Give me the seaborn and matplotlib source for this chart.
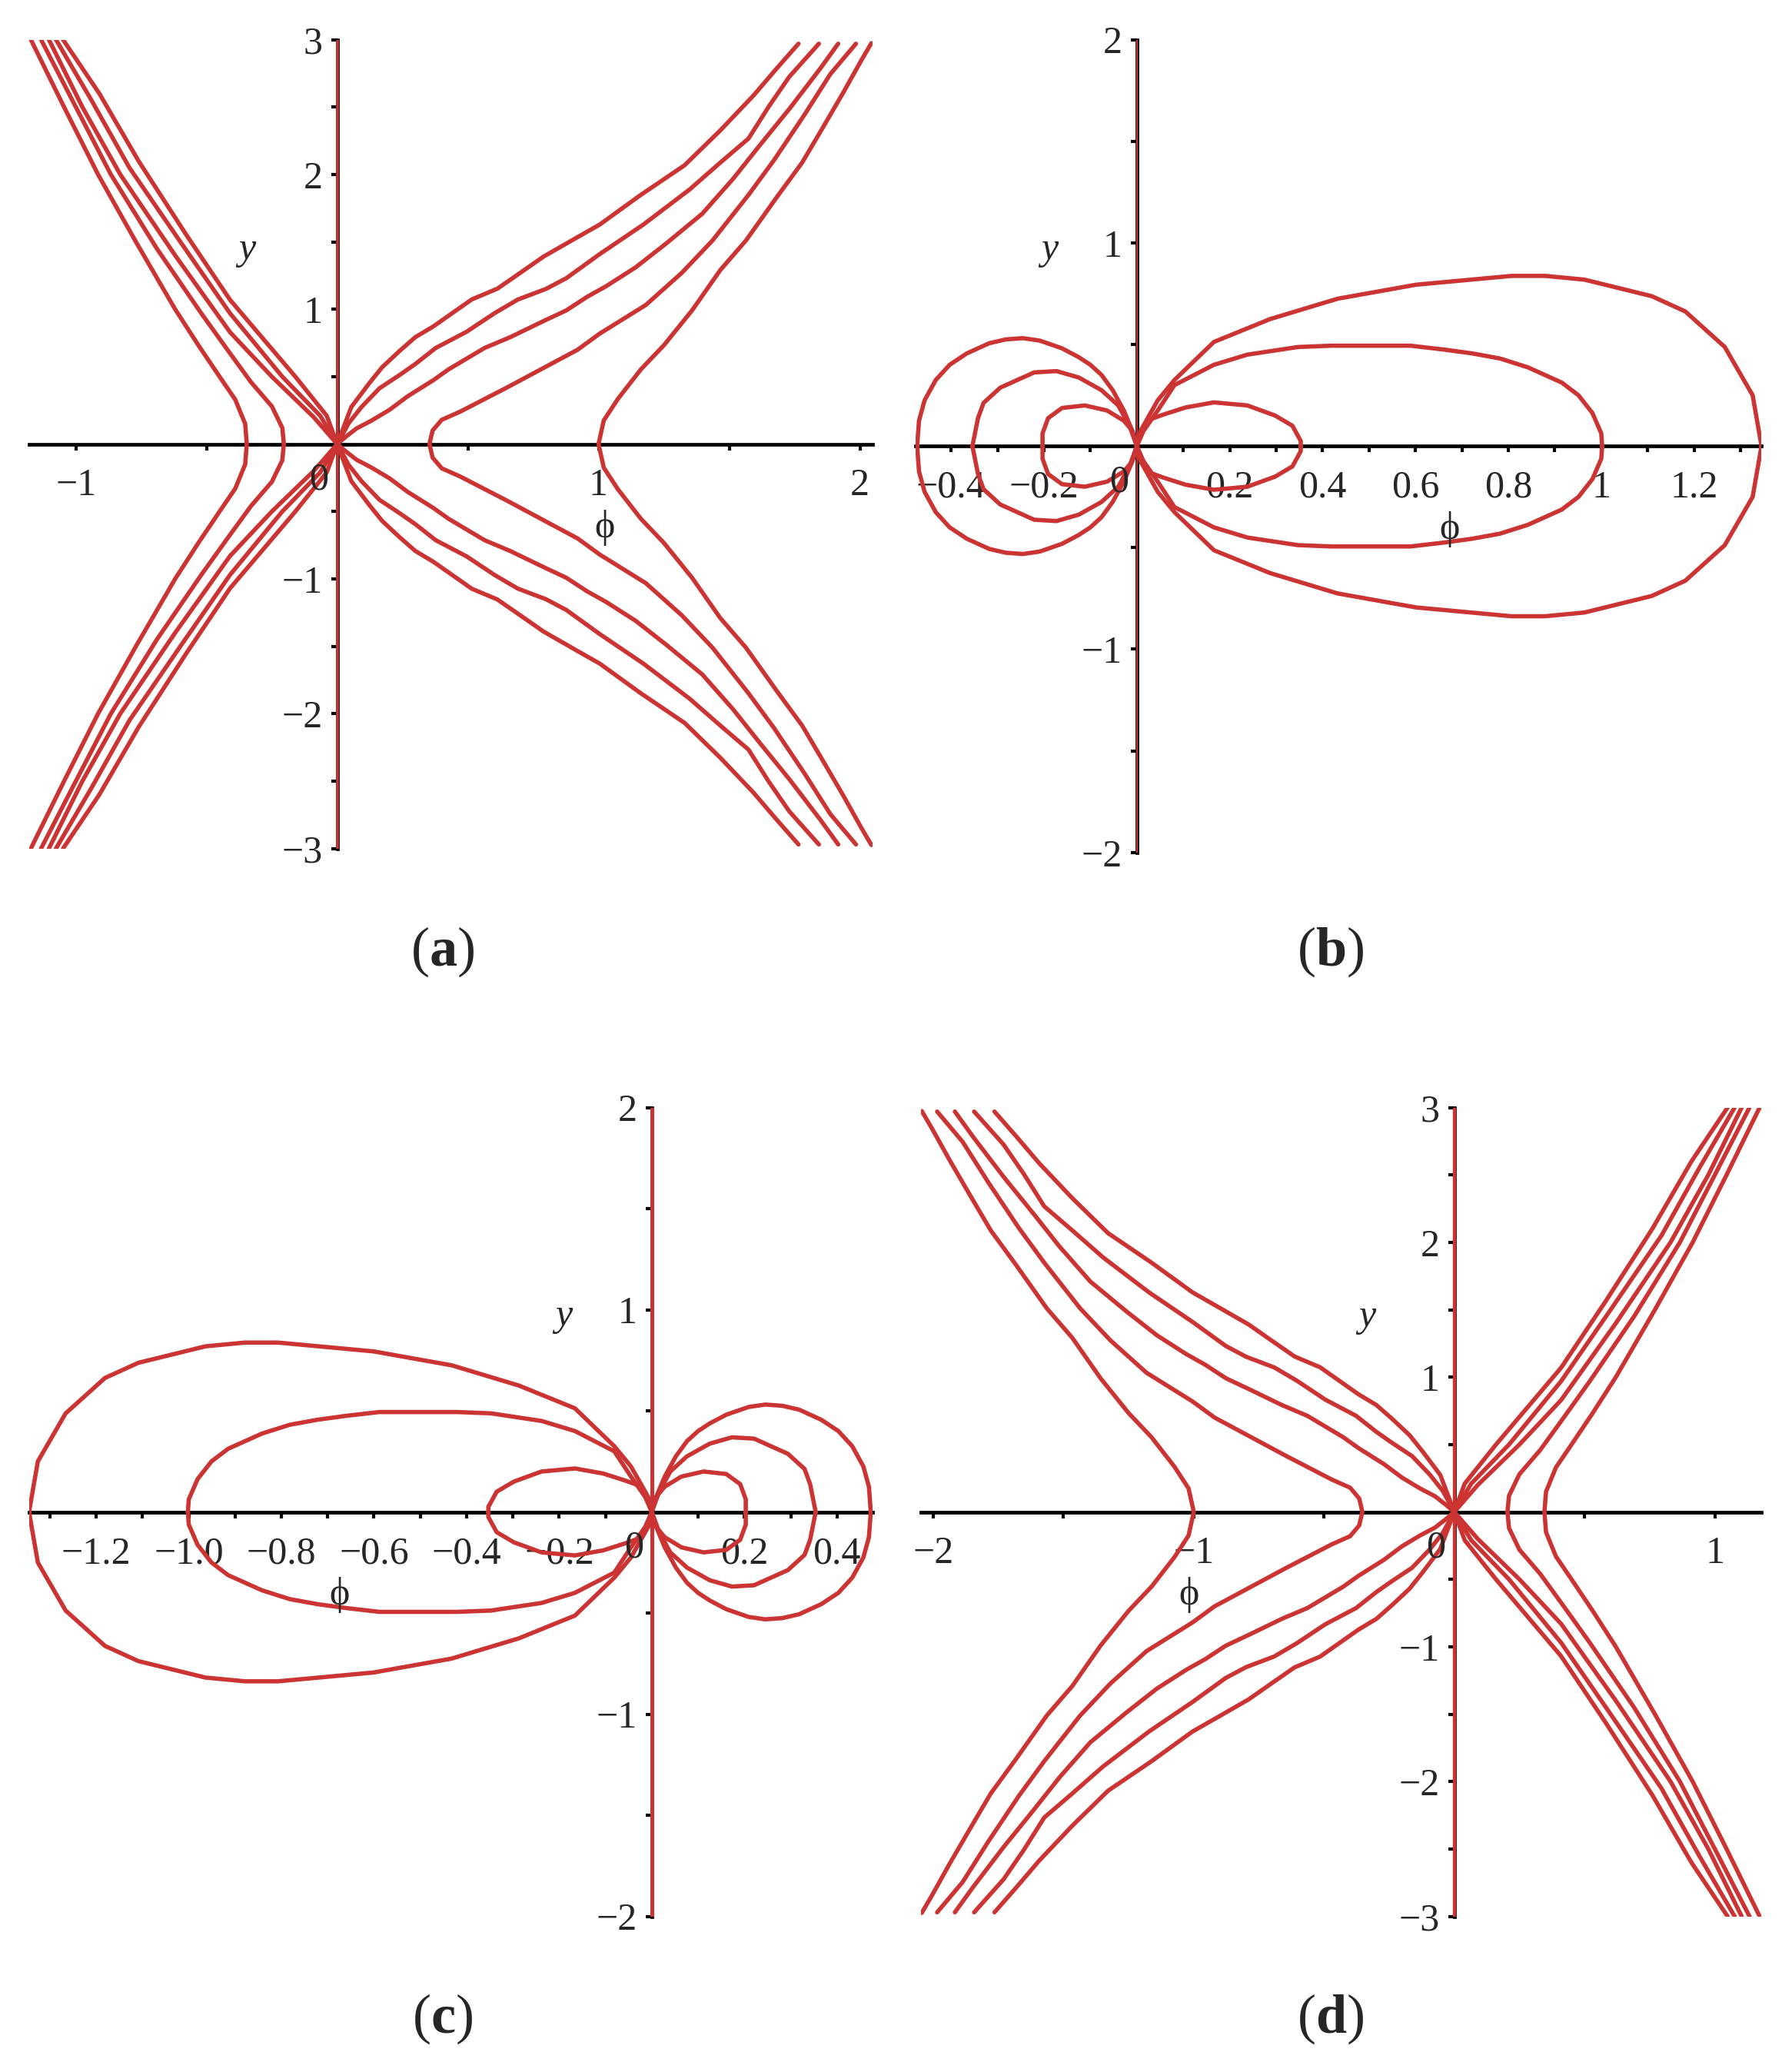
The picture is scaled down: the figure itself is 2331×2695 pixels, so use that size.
import matplotlib
matplotlib.use("Agg")
import matplotlib.pyplot as plt
import pandas as pd
import seaborn as sns

RED = "#cc3333"

# panel (a): upper halves of the level curves
# (the lower halves are their mirror images in y)
a_A_phi = [-0.346, -0.352, -0.39, -0.45, -0.53, -0.62, -0.77, -0.915, -1.045, -1.172]
a_A_y = [0, 0.15, 0.33, 0.5, 0.73, 1.0, 1.5, 2.0, 2.5, 3.0]
a_B_phi = [-0.204, -0.21, -0.25, -0.33, -0.42, -0.52, -0.69, -0.866, -1.0, -1.133]
a_B_y = [0, 0.12, 0.28, 0.46, 0.7, 0.97, 1.45, 2.0, 2.5, 3.0]
a_C_phi = [0, -0.09, -0.25, -0.41, -0.62, -0.83, -0.975, -1.103]
a_C_y = [0, 0.2, 0.5, 0.83, 1.4, 2.0, 2.5, 3.0]
a_D_phi = [0, -0.065, -0.21, -0.41, -0.6, -0.795, -0.94, -1.076]
a_D_y = [0, 0.21, 0.5, 0.97, 1.5, 2.05, 2.55, 3.0]
a_E_phi = [0, -0.04, -0.16, -0.41, -0.58, -0.76, -0.91, -1.049]
a_E_y = [0, 0.21, 0.5, 1.07, 1.56, 2.1, 2.6, 3.0]
a_F_phi = [0.353, 0.365, 0.4, 0.47, 0.65, 0.92, 1.005, 1.181, 1.319, 1.436, 1.574, 1.672, 1.789, 1.887, 1.985]
a_F_y = [0, 0.1, 0.18, 0.24, 0.42, 0.7, 0.82, 1.032, 1.271, 1.51, 1.849, 2.108, 2.446, 2.745, 2.97]
a_H_phi = [1.0, 1.02, 1.074, 1.162, 1.25, 1.358, 1.466, 1.564, 1.681, 1.779, 1.858, 1.936, 2.005, 2.044]
a_H_y = [0, 0.175, 0.335, 0.554, 0.733, 0.992, 1.291, 1.51, 1.829, 2.088, 2.347, 2.606, 2.845, 2.974]
a_G1_phi = [0, 0.054, 0.123, 0.172, 0.24, 0.299, 0.368, 0.515, 0.613, 0.701, 0.789, 0.897, 1.005,
            1.162, 1.329, 1.466, 1.593, 1.681, 1.765]
a_G1_y = [0, 0.275, 0.452, 0.57, 0.693, 0.793, 0.873, 1.073, 1.153, 1.271, 1.39, 1.51, 1.629,
          1.849, 2.068, 2.327, 2.586, 2.785, 2.97]
a_G2_phi = [0, 0.044, 0.093, 0.162, 0.24, 0.299, 0.377, 0.495, 0.603, 0.691, 0.799, 0.877, 1.005,
            1.172, 1.348, 1.466, 1.574, 1.652, 1.73, 1.843]
a_G2_y = [0, 0.155, 0.275, 0.414, 0.514, 0.594, 0.713, 0.833, 0.972, 1.072, 1.151, 1.231, 1.41,
          1.629, 1.888, 2.088, 2.267, 2.506, 2.725, 2.97]
a_G3_phi = [0, 0.034, 0.074, 0.132, 0.201, 0.27, 0.368, 0.426, 0.564, 0.662, 0.789, 0.877, 0.956,
            1.029, 1.142, 1.26, 1.397, 1.515, 1.613, 1.73, 1.848, 1.917]
a_G3_y = [0, 0.056, 0.116, 0.175, 0.255, 0.355, 0.474, 0.554, 0.713, 0.793, 0.912, 0.992, 1.092,
          1.171, 1.311, 1.49, 1.709, 1.968, 2.207, 2.486, 2.785, 2.97]

# panel (b): upper halves of the loops
b_R3_phi = [0, 0.008, 0.045, 0.081, 0.166, 0.287, 0.432, 0.601, 0.807, 0.879, 0.964, 1.109, 1.181,
            1.266, 1.326, 1.345]
b_R3_y = [0, 0.075, 0.225, 0.325, 0.5125, 0.625, 0.725, 0.794, 0.8375, 0.8375, 0.819, 0.7375, 0.6625,
          0.4875, 0.25, 0]
b_R2_phi = [0, 0.0145, 0.045, 0.081, 0.166, 0.238, 0.347, 0.419, 0.589, 0.661, 0.722, 0.782, 0.842,
            0.915, 0.951, 0.981, 1.0, 1.002]
b_R2_y = [0, 0.075, 0.175, 0.3, 0.4, 0.45, 0.4875, 0.494, 0.494, 0.475, 0.456, 0.431, 0.3875,
          0.3125, 0.25, 0.1625, 0.0625, 0]
b_R1_phi = [0, 0.011, 0.027, 0.057, 0.105, 0.166, 0.238, 0.298, 0.335, 0.353, 0.353]
b_R1_y = [0, 0.07, 0.13, 0.155, 0.19, 0.215, 0.2, 0.15, 0.1, 0.025, 0]
b_L3_phi = [0, -0.0097, -0.028, -0.052, -0.076, -0.1, -0.125, -0.161, -0.209, -0.245, -0.282, -0.318,
            -0.366, -0.403, -0.433, -0.457, -0.469, -0.473]
b_L3_y = [0, 0.075, 0.175, 0.275, 0.35, 0.4, 0.4375, 0.481, 0.519, 0.531, 0.525, 0.506, 0.456, 0.4,
          0.325, 0.225, 0.125, 0]
b_L2_phi = [0, -0.016, -0.04, -0.076, -0.125, -0.173, -0.221, -0.294, -0.33, -0.342, -0.354]
b_L2_y = [0, 0.1, 0.2, 0.275, 0.3375, 0.369, 0.3625, 0.2875, 0.2125, 0.1375, 0]
b_L1_phi = [0, -0.0097, -0.028, -0.064, -0.112, -0.161, -0.191, -0.203, -0.203]
b_L1_y = [0, 0.075, 0.125, 0.175, 0.2, 0.1875, 0.1375, 0.0625, 0]

a_curves = [(a_A_phi, a_A_y), (a_B_phi, a_B_y), (a_C_phi, a_C_y), (a_D_phi, a_D_y),
            (a_E_phi, a_E_y), (a_F_phi, a_F_y), (a_H_phi, a_H_y), (a_G1_phi, a_G1_y),
            (a_G2_phi, a_G2_y), (a_G3_phi, a_G3_y)]
b_curves = [(b_R3_phi, b_R3_y), (b_R2_phi, b_R2_y), (b_R1_phi, b_R1_y),
            (b_L3_phi, b_L3_y), (b_L2_phi, b_L2_y), (b_L1_phi, b_L1_y)]

# tick values
ticks_ad = [-2, -1, 1, 2]
ticks_y3 = [-3, -2, -1, 1, 2, 3]
ticks_bc = [-1.2, -1.0, -0.8, -0.6, -0.4, -0.2, 0.2, 0.4, 0.6, 0.8, 1.0, 1.2]
ticks_y2 = [-2, -1, 1, 2]


def curves_frame(curves, flip=False):
    # stitch mirrored lower half and upper half into one polyline
    parts = []
    for i, (phi, y) in enumerate(curves):
        p = phi[::-1] + phi[1:]
        q = [-v for v in y[::-1]] + y[1:]
        if flip:
            p = [-v for v in p]
        parts.append(pd.DataFrame({"phi": p, "y": q, "curve": i}))
    return pd.concat(parts, ignore_index=True)


sns.set_theme(style="white")
plt.rcParams["font.family"] = ["Liberation Serif", "DejaVu Serif"]
plt.rcParams["mathtext.fontset"] = "custom"
plt.rcParams["mathtext.rm"] = "Liberation Serif"
plt.rcParams["mathtext.bf"] = "Liberation Serif:bold"

fig = plt.figure(figsize=(23.31, 26.95), dpi=100)
W, H = 2331, 2695


def rect(x0, x1, y0, y1):
    return [x0 / W, 1 - y1 / H, (x1 - x0) / W, (y1 - y0) / H]


panels = [
    dict(box=rect(37.8, 1134.5, 51.6, 1103.6), xlim=(-1.179, 2.047), ylim=(-3, 3),
         df=curves_frame(a_curves), xt=[t for t in ticks_ad if -1.2 < t < 2.1],
         xminor=[-0.5, 0.5, 1.5], yt=ticks_y3, yminor=[-2.5, -1.5, -0.5, 0.5, 1.5, 2.5],
         ylabpos=(-0.344, 1.44), philabpos=(1.022, -0.62), tag="a", vline=2.6),
    dict(box=rect(1191.2, 2291.3, 51.6, 1108.8), xlim=(-0.476, 1.345), ylim=(-2, 2),
         df=curves_frame(b_curves), xt=[t for t in ticks_bc if -0.5 < t < 1.35],
         xminor=[-0.3, -0.1, 0.1, 0.3, 0.5, 0.7, 0.9, 1.1, 1.3], yt=ticks_y2,
         yminor=[-1.5, -0.5, 0.5, 1.5], ylabpos=(-0.188, 0.967),
         philabpos=(0.673, -0.41), tag="b", vline=1.4),
    dict(box=rect(37.8, 1134.5, 1440.5, 2492.6), xlim=(-1.345, 0.476), ylim=(-2, 2),
         df=curves_frame(b_curves, flip=True), xt=[t for t in ticks_bc if -1.35 < t < 0.5],
         xminor=[-1.3, -1.1, -0.9, -0.7, -0.5, -0.3, -0.1, 0.1, 0.3], yt=ticks_y2,
         yminor=[-1.5, -0.5, 0.5, 1.5], ylabpos=(-0.191, 0.97),
         philabpos=(-0.675, -0.41), tag="c", vline=3.6),
    dict(box=rect(1198.0, 2291.3, 1440.5, 2492.6), xlim=(-2.047, 1.179), ylim=(-3, 3),
         df=curves_frame(a_curves, flip=True), xt=[t for t in ticks_ad if -2.1 < t < 1.2],
         xminor=[-1.5, -0.5, 0.5], yt=ticks_y3, yminor=[-2.5, -1.5, -0.5, 0.5, 1.5, 2.5],
         ylabpos=(-0.335, 1.446), philabpos=(-1.02, -0.617), tag="d", vline=3.2),
]

tag_pos = {"a": (575.9, 1237.7), "b": (1731.0, 1237.7), "c": (575.9, 2626.6), "d": (1731.0, 2626.6)}
FS = 36

for p in panels:
    ax = fig.add_axes(p["box"])
    ax.set_facecolor("none")
    sns.lineplot(data=p["df"], x="phi", y="y", units="curve", estimator=None, sort=False,
                 color=RED, lw=4.0, ax=ax, legend=False, zorder=3)
    ax.set_xlim(*p["xlim"])
    ax.set_ylim(*p["ylim"])
    ax.set_xlabel("")
    ax.set_ylabel("")
    for s in ("top", "right"):
        ax.spines[s].set_visible(False)
    for s in ("left", "bottom"):
        ax.spines[s].set_position(("data", 0))
        ax.spines[s].set_color("black")
        ax.spines[s].set_linewidth(3.4)
        ax.spines[s].set_zorder(2)
    # the phi = 0 line is itself a level curve
    ax.axvline(0, color=RED, lw=p["vline"], zorder=4)

    labels = []
    for t in p["xt"]:
        s = f"{t:.1f}" if p["tag"] in ("b", "c") else f"{int(round(t))}"
        if p["tag"] == "b" and s == "1.0":
            s = "1"
        labels.append(s.replace("-", "\u2212"))
    ax.set_xticks(p["xt"], labels)
    ax.set_xticks(p["xminor"], minor=True)
    ax.set_yticks(p["yt"], [f"{t}".replace("-", "\u2212") for t in p["yt"]])
    ax.set_yticks(p["yminor"], minor=True)
    ax.tick_params(axis="both", which="both", direction="out", length=5.5, width=3,
                   color="black", bottom=True, left=True, labelsize=FS)
    ax.tick_params(axis="x", which="major", pad=17)
    ax.tick_params(axis="y", which="major", pad=8)
    ax.grid(False)

    ax.annotate("0", xy=(0, 0), xytext=(-8, -17), textcoords="offset points",
                ha="right", va="top", fontsize=FS)
    ax.text(*p["ylabpos"], "y", fontsize=FS, style="italic", ha="center", va="center")
    ax.text(*p["philabpos"], "\u03d5", fontsize=FS, ha="center", va="center")

    tx, ty = tag_pos[p["tag"]]
    fig.text(tx / W, 1 - ty / H, "($\\mathbf{" + p["tag"] + "}$)", fontsize=52,
             ha="center", va="center")

fig.savefig("out.png", dpi=100)
